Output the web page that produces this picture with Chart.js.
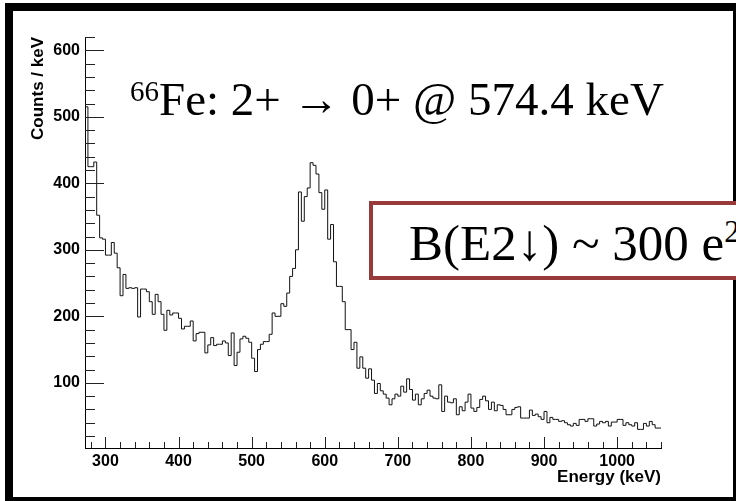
<!DOCTYPE html>
<html>
<head>
<meta charset="utf-8">
<script src="https://cdn.jsdelivr.net/npm/chart.js@4.4.1/dist/chart.umd.min.js"></script>
<style>
  html, body { margin: 0; padding: 0; background: #fff; overflow: hidden; }
  body { width: 736px; height: 501px; position: relative; }
  #marco { position: absolute; left: 5px; top: 3px; width: 720px; height: 486px; border: 8px solid #000; }
  #grafico { position: absolute; left: 0; top: 0; }
  #titulo { position: absolute; left: 130px; top: 76px; font-family: "Liberation Serif", serif; font-size: 47px; line-height: 47px; color: #000; white-space: nowrap; }
  #titulo .sup { font-size: 29px; position: relative; top: -14px; }
  #caja { position: absolute; left: 369px; top: 201px; width: 420px; height: 71px; border: 4px solid #983a3a; background: #fff; }
  #caja span.txt { position: absolute; left: 36px; top: 13px; font-family: "Liberation Serif", serif; font-size: 51px; line-height: 51px; color: #000; white-space: nowrap; }
  #caja .sup { font-size: 31px; position: relative; top: -18px; }
</style>
</head>
<body>
<div id="marco"></div>
<canvas id="grafico" width="736" height="501"></canvas>
<div id="titulo"><span class="sup">66</span>Fe: 2+ → 0+ @ 574.4 keV</div>
<div id="caja"><span class="txt">B(E2↓) ~ 300 e<span class="sup">2</span></span></div>
<script>
// Histograma: bins de 4 keV desde 272 keV
const inicioBin = 272;
const anchoBin = 4;

// Cuentas por bin, por tramos de energía
const cuentasBajas = [591, 515, 425, 425, 432, 352, 318, 316, 292, 292, 311, 295, 273, 231, 263, 242, 243, 242, 243, 199,
    241, 241, 237, 222, 203, 233, 222, 203, 179, 209, 202, 205, 205, 197, 181, 185, 185, 193, 163, 174,
    176, 176, 145, 157, 168, 156, 158, 158, 163, 160];
const cuentasPico = [141, 175, 126, 146, 166, 170, 167, 161, 137, 117, 150, 158, 162, 162, 173, 205, 200, 200, 219, 215,
    235, 260, 272, 300, 387, 343, 380, 393, 431, 427, 414, 386, 361, 390, 316, 338, 282, 245, 245, 222,
    180, 180, 150, 161, 122, 139, 122, 107, 121];
const cuentasMedias = [104, 84, 99, 88, 83, 77, 67, 76, 83, 80, 95, 86, 106, 90, 74, 83, 67, 76, 84, 89,
    80, 77, 76, 97, 57, 80, 71, 70, 76, 52, 64, 58, 71, 83, 62, 57, 63, 75, 80, 73,
    60, 71, 58, 67, 66, 60, 52, 52, 60];
const cuentasCola = [63, 64, 47, 47, 47, 59, 51, 53, 49, 45, 57, 40, 48, 45, 45, 42, 43, 40, 37, 35,
    39, 36, 45, 45, 42, 46, 46, 35, 38, 42, 40, 42, 35, 41, 41, 45, 45, 36, 40, 37,
    35, 40, 30, 30, 39, 35, 42, 37, 32];

// Marcas de los ejes
const ticksX = [300, 400, 500, 600, 700, 800, 900, 1000];
const ticksY = [100, 200, 300, 400, 500, 600];
const rangoX = [272, 1060];
const rangoY = [2, 620];

const cuentas = [...cuentasBajas, ...cuentasPico, ...cuentasMedias, ...cuentasCola];

// Puntos del histograma (borde inferior de cada bin + borde final)
const puntos = cuentas.map((c, i) => ({ x: inicioBin + i * anchoBin, y: c }));
puntos.push({ x: inicioBin + cuentas.length * anchoBin, y: cuentas[cuentas.length - 1] });

// Ticks hacia dentro, estilo ROOT (mayores y menores)
const ticksInternos = {
    id: "ticksInternos",
    afterDatasetsDraw(chart) {
        const { ctx, chartArea, scales: { x, y } } = chart;
        ctx.save();
        ctx.strokeStyle = "#222";
        ctx.lineWidth = 1;
        ctx.beginPath();
        for (let v = 280; v <= rangoX[1]; v += 20) {
            const px = Math.round(x.getPixelForValue(v)) + 0.5;
            const largo = v % 100 === 0 ? 11 : 6;
            ctx.moveTo(px, chartArea.bottom);
            ctx.lineTo(px, chartArea.bottom - largo);
        }
        for (let v = 20; v <= rangoY[1]; v += 20) {
            const py = Math.round(y.getPixelForValue(v)) + 0.5;
            const largo = v % 100 === 0 ? 19 : 10;
            ctx.moveTo(chartArea.left, py);
            ctx.lineTo(chartArea.left + largo, py);
        }
        ctx.stroke();
        ctx.restore();
    }
};

Chart.defaults.font.family = "'Liberation Sans', Arial, sans-serif";
Chart.defaults.color = "#000";

new Chart(document.getElementById("grafico"), {
    type: "line",
    data: {
        datasets: [{
            data: puntos,
            stepped: "after",
            borderColor: "#111",
            borderWidth: 1,
            pointRadius: 0,
            fill: false
        }]
    },
    options: {
        responsive: false,
        animation: false,
        devicePixelRatio: 1,
        layout: { padding: { left: 0, top: 37, right: 75, bottom: 0 } },
        plugins: {
            legend: { display: false },
            tooltip: { enabled: false }
        },
        scales: {
            x: {
                type: "linear",
                min: rangoX[0],
                max: rangoX[1],
                afterBuildTicks: s => { s.ticks = ticksX.map(v => ({ value: v })); },
                afterFit: s => { s.height = 53; },
                grid: { display: false, drawTicks: false },
                border: { display: true, color: "#000", width: 1 },
                ticks: {
                    autoSkip: false,
                    maxRotation: 0,
                    padding: 4,
                    font: { size: 16, weight: "bold" },
                    callback: v => String(v) // sin separador de miles
                },
                title: {
                    display: true,
                    text: "Energy (keV)",
                    align: "end",
                    font: { size: 17, weight: "bold" },
                    padding: { top: 0, bottom: 13 }
                }
            },
            y: {
                min: rangoY[0],
                max: rangoY[1],
                afterBuildTicks: s => { s.ticks = ticksY.map(v => ({ value: v })); },
                afterFit: s => { s.width = 85; },
                grid: { display: false, drawTicks: false },
                border: { display: true, color: "#000", width: 1 },
                ticks: { padding: 5, font: { size: 16, weight: "bold" }, callback: v => String(v) },
                title: {
                    display: true,
                    text: "Counts / keV",
                    align: "end",
                    font: { size: 17, weight: "bold" },
                    padding: { top: 28, bottom: 0 }
                }
            }
        }
    },
    plugins: [ticksInternos]
});
</script>
</body>
</html>
